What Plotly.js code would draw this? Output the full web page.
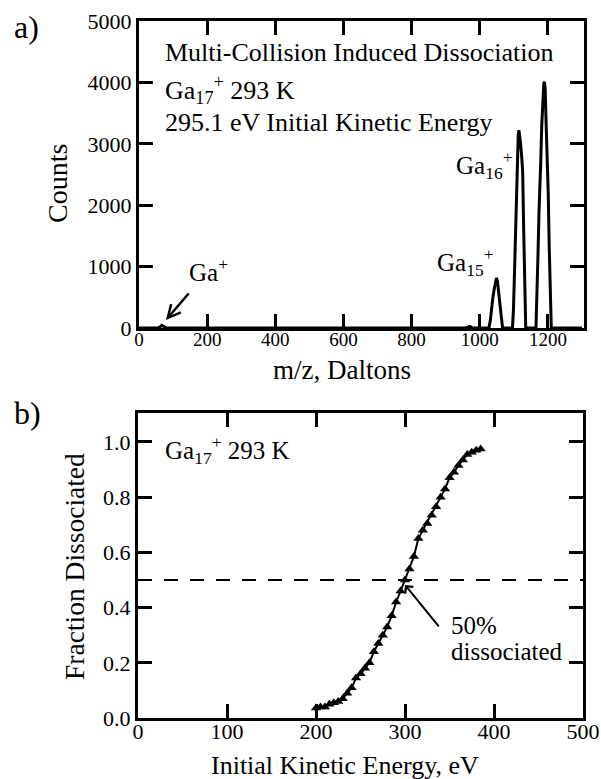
<!DOCTYPE html>
<html>
<head>
<meta charset="utf-8">
<script src="https://cdn.plot.ly/plotly-3.0.1.min.js"></script>
<style>html,body{margin:0;padding:0;background:#fff;} .p{position:absolute;left:0;width:601px;}</style>
</head>
<body>
<div id="top" class="p" style="top:0;height:389px;"></div>
<div id="bot" class="p" style="top:389px;height:390px;"></div>
<script>
// ---- Panel a: mass spectrum ----
const mz = [0, 55, 62, 67, 72, 80, 960, 971, 980,
  1027, 1031, 1035, 1038, 1042, 1046, 1049, 1052, 1056, 1060, 1064, 1067,
  1096, 1099, 1102, 1105, 1107, 1109, 1111, 1113, 1115, 1117, 1120, 1123, 1126, 1129, 1132, 1135,
  1165, 1168, 1171, 1174, 1176, 1179, 1182, 1185, 1188, 1190, 1192, 1195, 1198, 1201, 1204, 1207, 1210,
  1300];
const counts = [0, 0, 20, 45, 30, 0, 0, 25, 0,
  0, 120, 380, 470, 620, 780, 815, 760, 560, 350, 120, 0,
  0, 300, 900, 1600, 1850, 2300, 2800, 3150, 3220, 3150, 3000, 2800, 2550, 1600, 600, 0,
  0, 500, 1200, 1900, 2150, 2700, 3300, 3750, 3980, 4010, 3900, 3300, 2800, 2200, 1300, 500, 0,
  0];
const mzTicks = [0, 200, 400, 600, 800, 1000, 1200];
const countTicks = [0, 1000, 2000, 3000, 4000, 5000];

// ---- Panel b: fraction dissociated vs energy ----
const energy = [200, 205, 210, 215, 220, 225, 230, 235, 240, 245, 250, 255, 260, 265, 270, 275, 280, 285, 290, 295,
  300, 305, 310, 315, 320, 325, 330, 335, 340, 345, 350, 355, 360, 365, 370, 375, 380, 385];
const fraction = [0.036, 0.04, 0.04, 0.05, 0.055, 0.06, 0.07, 0.09, 0.11, 0.145, 0.16, 0.18, 0.2, 0.24, 0.27, 0.3, 0.33, 0.37, 0.42, 0.46,
  0.5, 0.54, 0.585, 0.65, 0.68, 0.705, 0.735, 0.765, 0.8, 0.83, 0.87, 0.89, 0.915, 0.935, 0.955, 0.963, 0.97, 0.975];
const halfX = [0, 500];
const halfY = [0.5, 0.5];
const energyTicks = [0, 100, 200, 300, 400, 500];
const fracTicks = [0, 0.2, 0.4, 0.6, 0.8, 1.0];

const FONT = 'Liberation Serif';

function axis(ticksArr, extra, fsize) {
  return Object.assign({
    showline: true, linecolor: 'black', linewidth: 3, mirror: 'allticks',
    ticks: 'inside', ticklen: 14, tickwidth: 2.5, tickcolor: 'black',
    showgrid: false, zeroline: false,
    tickmode: 'linear', tick0: ticksArr[0], dtick: ticksArr[1] - ticksArr[0],
    tickfont: {family: FONT, size: fsize || 22, color: 'black'}
  }, extra);
}

// converts page pixel positions into a panel's paper coordinates
function frame(W, H, m, top) {
  const pw = W - m.l - m.r, ph = H - m.t - m.b;
  return {
    X: x => (x - m.l) / pw,
    Y: y => 1 - ((y - top) - m.t) / ph
  };
}

function makeAnn(f) {
  return {
    text: function(text, x, y, size, xanchor) {
      return {text: text, xref: 'paper', yref: 'paper', x: f.X(x), y: f.Y(y),
        xanchor: xanchor || 'left', yanchor: 'middle', showarrow: false,
        font: {family: FONT, size: size, color: 'black'}};
    },
    vert: function(text, x, y, size) {
      return {text: text, xref: 'paper', yref: 'paper', x: f.X(x), y: f.Y(y), textangle: -90,
        xanchor: 'center', yanchor: 'middle', showarrow: false,
        font: {family: FONT, size: size, color: 'black'}};
    }
  };
}

// keep the library's tick marks on top of every other layer
function raiseTicks(gd) {
  try {
    const svgs = gd.querySelectorAll('svg.main-svg');
    if (!svgs.length) return;
    const host = svgs[svgs.length - 1];
    const g = document.createElementNS('http://www.w3.org/2000/svg', 'g');
    g.setAttribute('class', 'raised-ticks');
    host.appendChild(g);
    gd.querySelectorAll('path.ticks').forEach(function(p) { g.appendChild(p); });
  } catch (e) {}
}

// ---------- top panel ----------
const mTop = {l: 139, r: 17, t: 21, b: 61};
const fTop = frame(601, 389, mTop, 0);
const aTop = makeAnn(fTop);
const layoutTop = {
  width: 601, height: 389, margin: mTop,
  xaxis: axis(mzTicks, {range: [0, 1306], ticklabelstandoff: -8}, 19),
  yaxis: axis(countTicks, {range: [0, 5000]}),
  annotations: [
    aTop.text('a)', 12, 27, 32),
    aTop.text('Multi-Collision Induced Dissociation', 163, 52, 26),
    aTop.text('Ga<sub>17</sub><sup>+</sup> 293 K', 163, 90, 26),
    aTop.text('295.1 eV Initial Kinetic Energy', 163, 123, 26),
    aTop.text('Ga<sup>+</sup>', 187, 270, 25),
    aTop.text('Ga<sub>15</sub><sup>+</sup>', 435, 262, 25),
    aTop.text('Ga<sub>16</sub><sup>+</sup>', 454, 165, 25),
    aTop.vert('Counts', 57, 184, 28),
    aTop.text('m/z, Daltons', 342, 370, 27, 'center'),
    {text: '', xref: 'x', yref: 'y', x: 79, y: 130, ax: 24, ay: -28, axref: 'pixel', ayref: 'pixel',
     showarrow: true, arrowhead: 5, arrowsize: 1, arrowwidth: 2.5, arrowcolor: 'black'}
  ]
};
const gdTop = document.getElementById('top');
Plotly.newPlot(gdTop, [
  {x: mz, y: counts, type: 'scatter', mode: 'lines', line: {color: 'black', width: 3}, showlegend: false}
], layoutTop, {displayModeBar: false}).then(function() { raiseTicks(gdTop); });

// ---------- bottom panel ----------
const mBot = {l: 138, r: 18, t: 24, b: 61};
const fBot = frame(601, 390, mBot, 389);
const aBot = makeAnn(fBot);
const layoutBot = {
  width: 601, height: 390, margin: mBot,
  xaxis: axis(energyTicks, {range: [0, 500], ticklabelstandoff: -8}),
  yaxis: axis(fracTicks, {range: [0, 1.105], tickformat: '.1f'}),
  annotations: [
    aBot.text('b)', 12, 413, 32),
    aBot.text('Ga<sub>17</sub><sup>+</sup> 293 K', 163, 450, 25),
    aBot.text('50%', 449, 625, 25),
    aBot.text('dissociated', 449, 651, 25),
    aBot.vert('Fraction Dissociated', 74, 567, 27.5),
    aBot.text('Initial Kinetic Energy, eV', 345, 765, 26, 'center'),
    {text: '', xref: 'x', yref: 'y', x: 300, y: 0.482, ax: 35, ay: 43, axref: 'pixel', ayref: 'pixel',
     showarrow: true, arrowhead: 4, arrowsize: 1, arrowwidth: 2, arrowcolor: 'black'}
  ]
};
const gdBot = document.getElementById('bot');
Plotly.newPlot(gdBot, [
  {x: halfX, y: halfY, type: 'scatter', mode: 'lines', line: {color: 'black', width: 2, dash: '14px,12px'}, showlegend: false},
  {x: energy, y: fraction, type: 'scatter', mode: 'lines+markers', line: {color: 'black', width: 2},
   marker: {symbol: 'triangle-up', size: 9, color: 'black'}, showlegend: false}
], layoutBot, {displayModeBar: false}).then(function() { raiseTicks(gdBot); });
</script>
</body>
</html>
